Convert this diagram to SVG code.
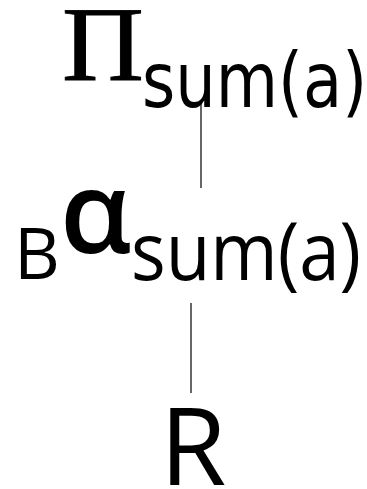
<svg xmlns="http://www.w3.org/2000/svg" width="367" height="489" viewBox="0 0 367 489">
<style>
text{fill:#000}
.serif{font-family:"Liberation Serif","Times New Roman",serif}
.tah{font-family:"DejaVu Sans","Verdana",sans-serif}
.hum{font-family:"Open Sans","DejaVu Sans",sans-serif}
.edge{stroke:#000;stroke-width:1.2;fill:none}
</style>
<rect width="367" height="489" fill="#fff"/>
<g id="connectors">
<line class="edge" x1="201" y1="100" x2="201" y2="188"/>
<line class="edge" x1="191" y1="303" x2="191" y2="393"/>
</g>
<g id="projection">
<text class="serif" transform="translate(62,80) scale(1.07,1)" font-size="106" stroke="#000" stroke-width="0.9">Π</text>
<text class="tah" transform="translate(142,107) scale(0.83,1)" font-size="77">sum(a)</text>
</g>
<g id="aggregation">
<text class="hum" x="14" y="279" font-size="71">B</text>
<text class="hum" x="60" y="253" font-size="114" font-weight="600">α</text>
<text class="hum" transform="translate(131,280) scale(0.91,1)" font-size="80">sum(a)</text>
</g>
<g id="relation">
<text class="hum" x="193" y="485" font-size="108" text-anchor="middle">R</text>
</g>
</svg>
